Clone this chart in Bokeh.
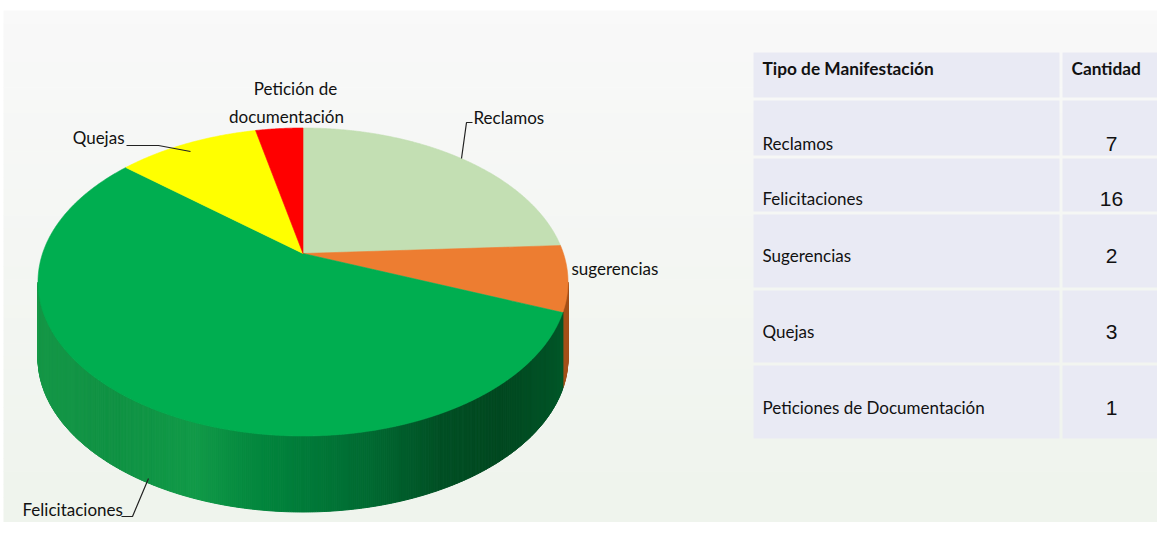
import numpy as np
from bokeh.plotting import figure
from bokeh.models import ColumnDataSource, Range1d
from bokeh.core.properties import value
from bokeh.embed import file_html
from bokeh.resources import INLINE

# ---------------- data ----------------
categories = ["Reclamos", "Sugerencias", "Felicitaciones", "Quejas", "Petición de documentación"]
counts = [7, 2, 16, 3, 1]
slice_colors = ["#c3dfb3", "#ed7d31", "#00ae50", "#ffff00", "#ff0000"]
side_colors_other = {"Sugerencias": "#a4501a"}

pie_label_text = ["Reclamos", "sugerencias", "Felicitaciones", "Quejas", "Petición de", "documentación"]

table_header = ["Tipo de Manifestación", "Cantidad"]
table_types = ["Reclamos", "Felicitaciones", "Sugerencias", "Quejas", "Peticiones de Documentación"]
table_counts = [7, 16, 2, 3, 1]

# ---------------- layout ----------------
W, H = 1157, 522
p = figure(width=W, height=H, output_backend="svg", toolbar_location=None,
           x_range=Range1d(0, W), y_range=Range1d(H, 0),
           min_border=0, outline_line_color=None,
           background_fill_color="#ffffff", border_fill_color="#ffffff")
p.axis.visible = False
p.grid.visible = False

# background gradient
nb = 40
ys = np.linspace(10, H, nb + 1)
c0 = np.array([249, 249, 249]); c1 = np.array([239, 244, 237])
bg_cols = []
for i in range(nb):
    t = i / (nb - 1)
    c = (c0 * (1 - t) + c1 * t).astype(int)
    bg_cols.append("#%02x%02x%02x" % tuple(c))
p.quad(left=3, right=W, top=ys[:-1], bottom=ys[1:] + 0.5, fill_color=bg_cols, line_color=None)

# ---------------- 3D pie ----------------
cx, cy, rx, ry, b, depth = 302.5, 281.5, 265.0, 154.0, 0.185, 76.0
k = np.sqrt(1 - b * b)

def proj(theta):
    u = np.sin(theta); v = -np.cos(theta)
    den = 1 - b * v
    return cx + rx * u * k / den, cy + ry * (v - b) / den

vals = np.array(counts, dtype=float)
cum = np.concatenate([[0], np.cumsum(vals)]) / vals.sum() * 2 * np.pi

# side strips (front half of the ellipse)
stops_x = [38, 110, 150, 195, 240, 300, 370, 440, 500, 545, 567]
stops_c = [(22, 152, 72), (16, 146, 68), (16, 150, 70), (18, 154, 73), (6, 140, 64),
           (0, 124, 58), (0, 106, 50), (0, 80, 37), (0, 72, 32), (0, 82, 38), (0, 90, 42)]
stops_c = np.array(stops_c, dtype=float)

N = 400
phis = np.linspace(0, np.pi, N + 1)
sxs, sys_, scol = [], [], []
for i in range(N):
    f1, f2 = phis[i], phis[i + 1]
    x1, y1 = cx + rx * np.cos(f1), cy + ry * np.sin(f1)
    x2, y2 = cx + rx * np.cos(f2), cy + ry * np.sin(f2)
    fm = 0.5 * (f1 + f2)
    Xn, Yn = np.cos(fm), np.sin(fm)
    u = Xn * k / (1 + b * Yn); v = (Yn + b) / (1 + b * Yn)
    th = np.arctan2(u, -v) % (2 * np.pi)
    idx = int(np.searchsorted(cum, th, side="right") - 1)
    idx = min(max(idx, 0), len(categories) - 1)
    xm = 0.5 * (x1 + x2)
    if categories[idx] in side_colors_other:
        col = side_colors_other[categories[idx]]
    else:
        rgb = [np.interp(xm, stops_x, stops_c[:, j]) for j in range(3)]
        col = "#%02x%02x%02x" % tuple(int(c) for c in rgb)
    sxs.append([x1, x2, x2, x1]); sys_.append([y1, y2, y2 + depth, y1 + depth]); scol.append(col)
p.patches(xs=sxs, ys=sys_, fill_color=scol, line_color=scol, line_width=1)

# top face slices
txs, tys = [], []
ax, ay = cx, cy - ry * b
for i in range(len(counts)):
    th = np.linspace(cum[i], cum[i + 1], max(int((cum[i + 1] - cum[i]) / 0.005), 4))
    X, Y = proj(th)
    txs.append([ax] + list(X)); tys.append([ay] + list(Y))
p.patches(xs=txs, ys=tys, fill_color=slice_colors, line_color=slice_colors, line_width=0.6)

# labels
lab_font = value("Lato")
lab_src = ColumnDataSource(dict(
    x=[473, 571, 22, 124, 295, 286],
    y=[117, 268, 509, 137, 88, 116],
    text=pie_label_text,
    align=["left", "left", "left", "right", "center", "center"]))
p.text(x="x", y="y", text="text", text_align="align", text_baseline="middle",
       text_font=lab_font, text_font_size="17px", text_color="#111111", source=lab_src)

p.multi_line(xs=[[472, 466, 461], [126, 158, 190], [121, 132, 148]],
             ys=[[122, 122, 158], [145, 145, 151], [516, 516, 478]],
             line_color="#222222", line_width=1.2)

# ---------------- table ----------------
row_top = [52, 100, 158, 214, 290, 365]
row_bot = [97, 155, 211, 287, 362, 438]
col_l = [753, 1062]
col_r = [1059, 1157]
ql, qr, qt, qb = [], [], [], []
for t, bt in zip(row_top, row_bot):
    for l, r in zip(col_l, col_r):
        ql.append(l); qr.append(r); qt.append(t); qb.append(bt)
p.quad(left=ql, right=qr, top=qt, bottom=qb, fill_color="#e9eaf4", line_color=None)

p.text(x=[762, 1071], y=[68, 68], text=table_header, text_align="left", text_baseline="middle",
       text_font=lab_font, text_font_style="bold", text_font_size="17.3px", text_color="#111111")

row_text_y = [143, 198, 255, 331, 407]
p.text(x=[762] * len(table_types), y=row_text_y, text=table_types, text_align="left",
       text_baseline="middle", text_font=lab_font, text_font_size="17px", text_color="#111111")
p.text(x=[1111] * len(table_counts), y=row_text_y, text=[str(c) for c in table_counts],
       text_align="center", text_baseline="middle", text_font=value("Liberation Sans"),
       text_font_size="21px", text_color="#111111")

open("out.html", "w").write(file_html(p, INLINE))
